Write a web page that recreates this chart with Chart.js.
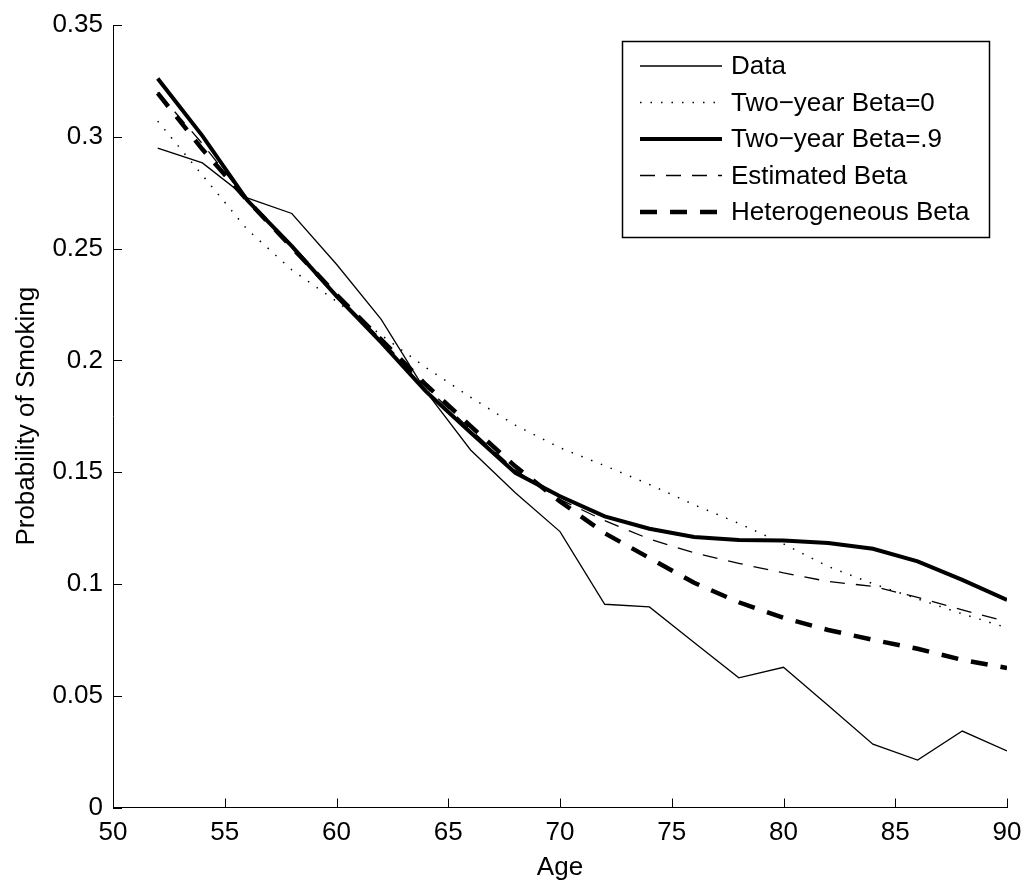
<!DOCTYPE html>
<html>
<head>
<meta charset="utf-8">
<script src="https://cdn.jsdelivr.net/npm/chart.js@4/dist/chart.umd.min.js"></script>
<style>
  html, body { margin: 0; padding: 0; background: #fff; }
  #wrap { width: 1028px; height: 893px; }
</style>
</head>
<body>
<div id="wrap"><canvas id="c" width="1028" height="893"></canvas></div>
<script>
// ages 52..90, every two years
var ages = [52, 54, 56, 58, 60, 62, 64, 66, 68, 70, 72, 74, 76, 78, 80, 82, 84, 86, 88, 90];

var dataObs = [0.2949, 0.2883, 0.2727, 0.2657, 0.2430, 0.2183, 0.1861, 0.1599, 0.1408, 0.1234, 0.0909, 0.0897, 0.0738, 0.0580, 0.0627, 0.0456, 0.0283, 0.0212, 0.0342, 0.0253];
var beta0   = [0.3070, 0.2828, 0.2586, 0.2405, 0.2264, 0.2113, 0.1968, 0.1835, 0.1710, 0.1609, 0.1529, 0.1445, 0.1354, 0.1271, 0.1179, 0.1078, 0.1001, 0.0933, 0.0866, 0.0804];
var beta9   = [0.3261, 0.3004, 0.2717, 0.2511, 0.2287, 0.2080, 0.1861, 0.1677, 0.1497, 0.1392, 0.1302, 0.1247, 0.1210, 0.1197, 0.1194, 0.1183, 0.1157, 0.1101, 0.1018, 0.0928];
var betaEst = [0.3200, 0.2969, 0.2717, 0.2506, 0.2294, 0.2093, 0.1881, 0.1690, 0.1509, 0.1378, 0.1283, 0.1201, 0.1139, 0.1092, 0.1049, 0.1011, 0.0989, 0.0940, 0.0884, 0.0831];
var betaHet = [0.3195, 0.2944, 0.2717, 0.2506, 0.2294, 0.2093, 0.1891, 0.1706, 0.1526, 0.1369, 0.1227, 0.1116, 0.1005, 0.0918, 0.0848, 0.0794, 0.0750, 0.0710, 0.0660, 0.0624];

var seriesNames = ['Data', 'Two\u2212year Beta=0', 'Two\u2212year Beta=.9', 'Estimated Beta', 'Heterogeneous Beta'];
var xTicks = [50, 55, 60, 65, 70, 75, 80, 85, 90];
var yTicks = [0, 0.05, 0.1, 0.15, 0.2, 0.25, 0.3, 0.35];

var FONT = '"Liberation Sans", Arial, Helvetica, sans-serif';

// line look for each series: width, dash
var styles = [
  { w: 1.3, dash: [] },
  { w: 1.5, dash: [1.5, 9] },
  { w: 4, dash: [] },
  { w: 1.3, dash: [15, 11] },
  { w: 4.5, dash: [17, 13] }
];
var allSeries = [dataObs, beta0, beta9, betaEst, betaHet];

function pts(arr) {
  return ages.map(function (a, i) { return { x: a, y: arr[i] }; });
}

var datasets = allSeries.map(function (s, i) {
  return {
    label: seriesNames[i],
    data: pts(s),
    borderColor: '#000',
    borderWidth: styles[i].w,
    borderDash: styles[i].dash,
    borderCapStyle: 'butt',
    pointRadius: 0,
    tension: 0,
    fill: false
  };
});

// MATLAB-style inward ticks
var inwardTicks = {
  id: 'inwardTicks',
  afterDatasetsDraw: function (chart) {
    var ctx = chart.ctx, a = chart.chartArea;
    var xs = chart.scales.x, ys = chart.scales.y;
    ctx.save();
    ctx.strokeStyle = '#000';
    ctx.lineWidth = 1;
    ctx.beginPath();
    xTicks.forEach(function (v) {
      var px = Math.round(xs.getPixelForValue(v)) + 0.5;
      ctx.moveTo(px, a.bottom);
      ctx.lineTo(px, a.bottom - 9);
    });
    yTicks.forEach(function (v) {
      var py = Math.round(ys.getPixelForValue(v)) + 0.5;
      ctx.moveTo(a.left, py);
      ctx.lineTo(a.left + 9, py);
    });
    ctx.stroke();
    ctx.restore();
  }
};

// boxed legend, top right inside the axes
var boxLegend = {
  id: 'boxLegend',
  afterDraw: function (chart) {
    var ctx = chart.ctx;
    var bx = 622, by = 41, bw = 367, bh = 196;
    ctx.save();
    ctx.fillStyle = '#fff';
    ctx.fillRect(bx, by, bw, bh);
    ctx.strokeStyle = '#000';
    ctx.lineWidth = 1.5;
    ctx.strokeRect(bx + 0.5, by + 0.5, bw, bh);
    ctx.font = '26px ' + FONT;
    ctx.textBaseline = 'middle';
    ctx.fillStyle = '#000';
    for (var i = 0; i < seriesNames.length; i++) {
      var y = 66 + i * 36.5;
      ctx.beginPath();
      ctx.lineWidth = styles[i].w;
      ctx.setLineDash(styles[i].dash);
      ctx.lineCap = 'butt';
      ctx.moveTo(640, y);
      ctx.lineTo(722, y);
      ctx.stroke();
      ctx.setLineDash([]);
      ctx.fillText(seriesNames[i], 731, y + 1);
    }
    ctx.restore();
  }
};

new Chart(document.getElementById('c'), {
  type: 'line',
  data: { datasets: datasets },
  plugins: [inwardTicks, boxLegend],
  options: {
    responsive: false,
    animation: false,
    events: [],
    layout: { padding: { top: 25, right: 21, left: 0, bottom: 0 } },
    plugins: { legend: { display: false }, tooltip: { enabled: false } },
    scales: {
      x: {
        type: 'linear',
        min: 50,
        max: 90,
        afterFit: function (s) { s.height = 85.5; s.paddingLeft = 0; s.paddingRight = 0; },
        afterBuildTicks: function (s) { s.ticks = xTicks.map(function (v) { return { value: v }; }); },
        grid: { display: true, drawOnChartArea: false, drawTicks: false },
        border: { display: true, color: '#000', width: 1 },
        ticks: {
          color: '#000',
          padding: 10,
          maxRotation: 0,
          font: { family: FONT, size: 26 }
        },
        title: {
          display: true,
          text: 'Age',
          color: '#000',
          padding: { top: 0, bottom: 10 },
          font: { family: FONT, size: 26 }
        }
      },
      y: {
        min: 0,
        max: 0.35,
        afterFit: function (s) { s.width = 113; s.paddingTop = 0; s.paddingBottom = 0; },
        afterBuildTicks: function (s) { s.ticks = yTicks.map(function (v) { return { value: v }; }); },
        grid: { display: true, drawOnChartArea: false, drawTicks: false },
        border: { display: true, color: '#000', width: 1 },
        ticks: {
          color: '#000',
          padding: 10,
          font: { family: FONT, size: 26 },
          callback: function (v) { return String(Math.round(v * 100) / 100); }
        },
        title: {
          display: true,
          text: 'Probability of Smoking',
          color: '#000',
          padding: { top: 11, bottom: 0 },
          font: { family: FONT, size: 26 }
        }
      }
    }
  }
});
</script>
</body>
</html>
